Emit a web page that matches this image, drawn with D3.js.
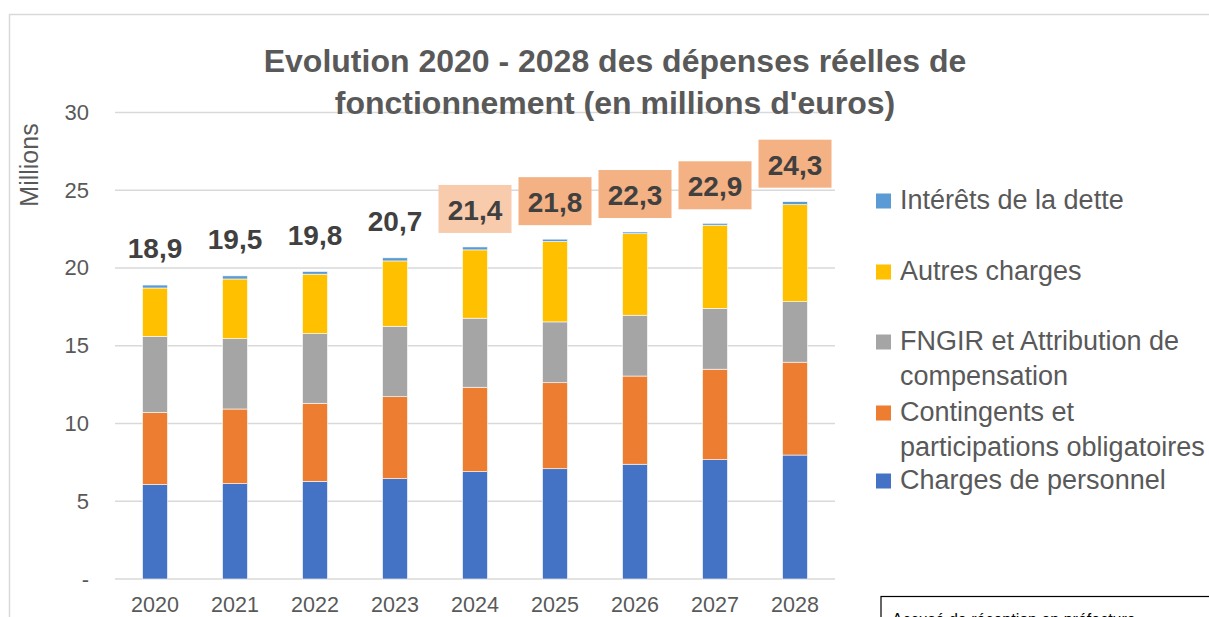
<!DOCTYPE html>
<html>
<head>
<meta charset="utf-8">
<script src="https://cdn.jsdelivr.net/npm/d3@7"></script>
<style>
  html, body { margin: 0; padding: 0; background: #fff; overflow: hidden; }
  svg { display: block; font-family: "Liberation Sans", Arial, sans-serif; }
</style>
</head>
<body>
<svg id="chart" width="1209" height="617"></svg>
<script>
// ---- Data ----
const years = ["2020", "2021", "2022", "2023", "2024", "2025", "2026", "2027", "2028"];
const chargesPersonnel = [6.07, 6.13, 6.28, 6.45, 6.90, 7.09, 7.38, 7.67, 7.97];
const contingents      = [4.65, 4.80, 5.02, 5.27, 5.43, 5.53, 5.67, 5.82, 5.97];
const fngir            = [4.88, 4.52, 4.48, 4.53, 4.44, 3.91, 3.91, 3.91, 3.89];
const autresCharges    = [3.11, 3.84, 3.82, 4.20, 4.39, 5.17, 5.24, 5.35, 6.24];
const interetsDette    = [0.19, 0.20, 0.17, 0.20, 0.19, 0.15, 0.11, 0.12, 0.19];
const totalLabels = ["18,9", "19,5", "19,8", "20,7", "21,4", "21,8", "22,3", "22,9", "24,3"];
const labelBoxed  = [false, false, false, false, "light", "dark", "dark", "dark", "dark"];
const yTickValues = [0, 5, 10, 15, 20, 25, 30];
const yTickLabels = ["-", "5", "10", "15", "20", "25", "30"];
const seriesNames = ["Charges de personnel", "Contingents et participations obligatoires",
                     "FNGIR et Attribution de compensation", "Autres charges", "Intérêts de la dette"];
const seriesKeys = ["personnel", "contingents", "fngir", "autres", "interets"];

// ---- Styles ----
const colors = { personnel: "#4472C4", contingents: "#ED7D31", fngir: "#A5A5A5", autres: "#FFC000", interets: "#5B9BD5" };
const boxColors = { light: "#F8CBAD", dark: "#F4B183" };
const textGrey = "#595959";

const rows = years.map((y, i) => ({
  year: y,
  personnel: chargesPersonnel[i],
  contingents: contingents[i],
  fngir: fngir[i],
  autres: autresCharges[i],
  interets: interetsDette[i],
  label: totalLabels[i],
  boxed: labelBoxed[i]
}));

const svg = d3.select("#chart");

// chart border
svg.append("path")
  .attr("d", "M9.5,617 L9.5,14.5 L1209,14.5")
  .attr("fill", "none").attr("stroke", "#d9d9d9").attr("stroke-width", 1.5);

const x = d3.scaleBand().domain(years).range([115, 835]).paddingInner(0.6875).paddingOuter(0.34375);
const y = d3.scaleLinear().domain([0, 30]).range([579, 112.4]);

// gridlines
svg.append("g").selectAll("line").data(yTickValues).join("line")
  .attr("x1", 115).attr("x2", 835)
  .attr("y1", d => y(d)).attr("y2", d => y(d))
  .attr("stroke", "#d9d9d9").attr("stroke-width", 1.5);

// y axis labels
const yAxis = d3.axisLeft(y).tickValues(yTickValues).tickFormat((d, i) => yTickLabels[i]).tickSize(0).tickPadding(0);
const gy = svg.append("g").attr("transform", "translate(89,0)").call(yAxis);
gy.select(".domain").remove();
gy.selectAll("text").attr("fill", textGrey).style("font-size", "22px")
  .style("font-family", "'Liberation Sans', Arial, sans-serif");

// x axis labels
const xAxis = d3.axisBottom(x).tickSize(0).tickPadding(0);
const gx = svg.append("g").attr("transform", "translate(0,612)").call(xAxis);
gx.select(".domain").remove();
gx.selectAll("text").attr("fill", textGrey).attr("dy", 0).attr("y", 0)
  .style("font-size", "21.5px").style("font-family", "'Liberation Sans', Arial, sans-serif");

// Millions label
svg.append("text")
  .attr("transform", "translate(38,165) rotate(-90)")
  .attr("text-anchor", "middle").attr("fill", textGrey)
  .style("font-size", "25px").text("Millions");

// stacked bars
const stack = d3.stack().keys(seriesKeys);
const stacked = stack(rows);
svg.append("g").selectAll("g").data(stacked).join("g")
  .attr("fill", d => colors[d.key])
  .selectAll("rect").data(d => d).join("rect")
  .attr("x", d => x(d.data.year))
  .attr("width", x.bandwidth())
  .attr("y", d => y(d[1]))
  .attr("height", d => y(d[0]) - y(d[1]))
  .attr("stroke", "#ffffff").attr("stroke-width", 0.6);

// total labels
const totals = rows.map(r => seriesKeys.reduce((s, k) => s + r[k], 0));
const lab = svg.append("g").selectAll("g").data(rows).join("g");
lab.filter(d => d.boxed).append("rect")
  .attr("x", d => x(d.year) + x.bandwidth() / 2 - 36.5)
  .attr("y", d => y(totals[rows.indexOf(d)]) - 62)
  .attr("width", 73).attr("height", 48)
  .attr("fill", d => boxColors[d.boxed]);
lab.append("text")
  .attr("x", d => x(d.year) + x.bandwidth() / 2)
  .attr("y", d => y(totals[rows.indexOf(d)]) - 27)
  .attr("text-anchor", "middle")
  .attr("fill", "#404040")
  .style("font-size", "28px").style("font-weight", "bold")
  .text(d => d.label);

// title
const title = svg.append("text").attr("text-anchor", "middle").attr("fill", textGrey)
  .style("font-size", "32px").style("font-weight", "bold");
title.append("tspan").attr("x", 615).attr("y", 72).text("Evolution 2020 - 2028 des dépenses réelles de");
title.append("tspan").attr("x", 615).attr("y", 114).text("fonctionnement (en millions d'euros)");

// legend
const legendItems = [
  { key: "interets", lines: ["Intérêts de la dette"], base: 209 },
  { key: "autres", lines: ["Autres charges"], base: 280 },
  { key: "fngir", lines: ["FNGIR et Attribution de", "compensation"], base: 350 },
  { key: "contingents", lines: ["Contingents et", "participations obligatoires"], base: 421 },
  { key: "personnel", lines: ["Charges de personnel"], base: 489 }
];
const lg = svg.append("g").selectAll("g").data(legendItems).join("g");
lg.append("rect")
  .attr("x", 876).attr("y", d => d.base - 15.5)
  .attr("width", 15).attr("height", 15)
  .attr("fill", d => colors[d.key]);
lg.each(function (d) {
  const t = d3.select(this).append("text").attr("fill", textGrey).style("font-size", "27px");
  d.lines.forEach((ln, i) => {
    t.append("tspan").attr("x", 900).attr("y", d.base + i * 35).text(ln);
  });
});

// stamp box (bottom right)
svg.append("rect").attr("x", 881).attr("y", 596.5).attr("width", 340).attr("height", 40)
  .attr("fill", "#fff").attr("stroke", "#000").attr("stroke-width", 1.2);
svg.append("text").attr("x", 892).attr("y", 625).attr("fill", "#000")
  .style("font-size", "16px").text("Accusé de réception en préfecture");
</script>
</body>
</html>
